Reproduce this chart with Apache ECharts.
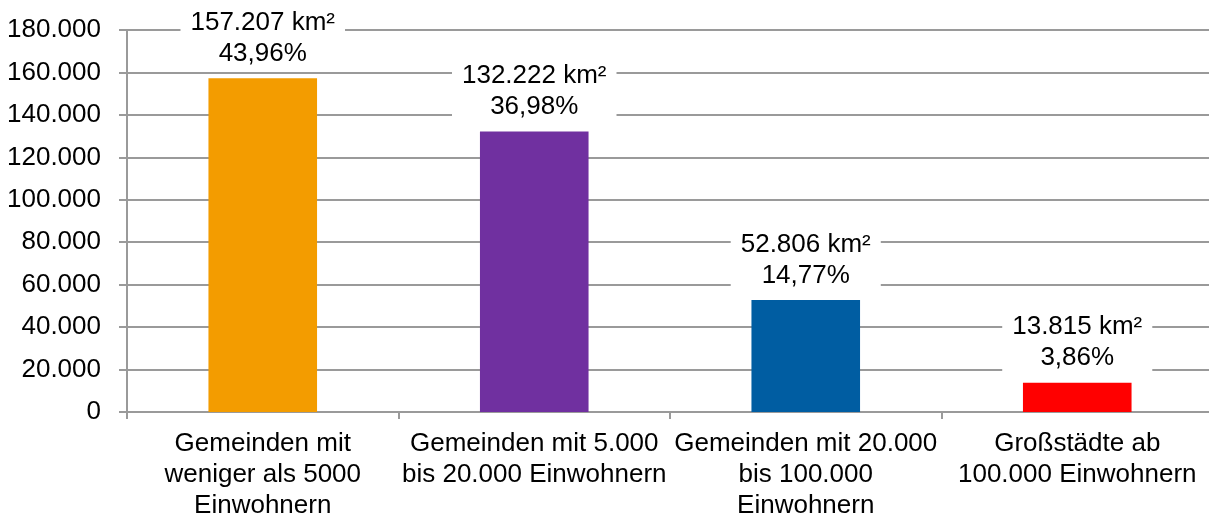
<!DOCTYPE html>
<html>
<head>
<meta charset="utf-8">
<script src="https://cdn.jsdelivr.net/npm/echarts@6/dist/echarts.min.js"></script>
<style>
  html, body { margin: 0; padding: 0; background: #fff; }
  #chart { width: 1209px; height: 516px; }
</style>
</head>
<body>
<div id="chart"></div>
<script>
var categories = [
  "Gemeinden mit\nweniger als 5000\nEinwohnern",
  "Gemeinden mit 5.000\nbis 20.000 Einwohnern",
  "Gemeinden mit 20.000\nbis 100.000\nEinwohnern",
  "Großstädte ab\n100.000 Einwohnern"
];
var areaValues = [157207, 132222, 52806, 13815];
var areaShares = ["43,96%", "36,98%", "14,77%", "3,86%"];
var barColors = ["#F39C00", "#7030A0", "#005DA2", "#FF0000"];

function fmtDe(v) {
  return String(v).replace(/\B(?=(\d{3})+(?!\d))/g, ".");
}

var chart = echarts.init(document.getElementById("chart"));
var fontFamily = "Liberation Sans, Arial, sans-serif";
var gridColor = "#9a9a9a";

var option = {
  backgroundColor: "#ffffff",
  animation: false,
  grid: {
    left: 127, right: -4, top: 30, bottom: 104,
    containLabel: false,
    outerBoundsMode: "none"
  },
  xAxis: {
    type: "category",
    data: categories,
    axisLine: { lineStyle: { color: gridColor, width: 2 } },
    axisTick: { show: true, length: 7, lineStyle: { color: gridColor, width: 2 } },
    axisLabel: {
      color: "#000",
      fontSize: 26,
      fontFamily: fontFamily,
      lineHeight: 31,
      margin: 16,
      interval: 0
    }
  },
  yAxis: {
    type: "value",
    min: 0,
    max: 180000,
    interval: 20000,
    axisLine: { show: true, lineStyle: { color: gridColor, width: 2 } },
    axisTick: { show: true, length: 8, lineStyle: { color: gridColor, width: 2 } },
    splitLine: { show: true, lineStyle: { color: gridColor, width: 2 } },
    axisLabel: {
      color: "#000",
      fontSize: 26,
      fontFamily: fontFamily,
      margin: 26,
      formatter: function (v) { return fmtDe(v); }
    }
  },
  series: [{
    type: "bar",
    barWidth: "40%",
    data: areaValues.map(function (v, i) {
      return { value: v, itemStyle: { color: barColors[i] } };
    }),
    label: {
      show: true,
      position: "top",
      distance: 9,
      color: "#000",
      fontSize: 26,
      fontFamily: fontFamily,
      lineHeight: 31,
      align: "center",
      backgroundColor: "#fff",
      padding: [0, 10, 0, 10],
      formatter: function (p) {
        return fmtDe(p.value) + " km²\n" + areaShares[p.dataIndex];
      }
    }
  }]
};

chart.setOption(option);
</script>
</body>
</html>
